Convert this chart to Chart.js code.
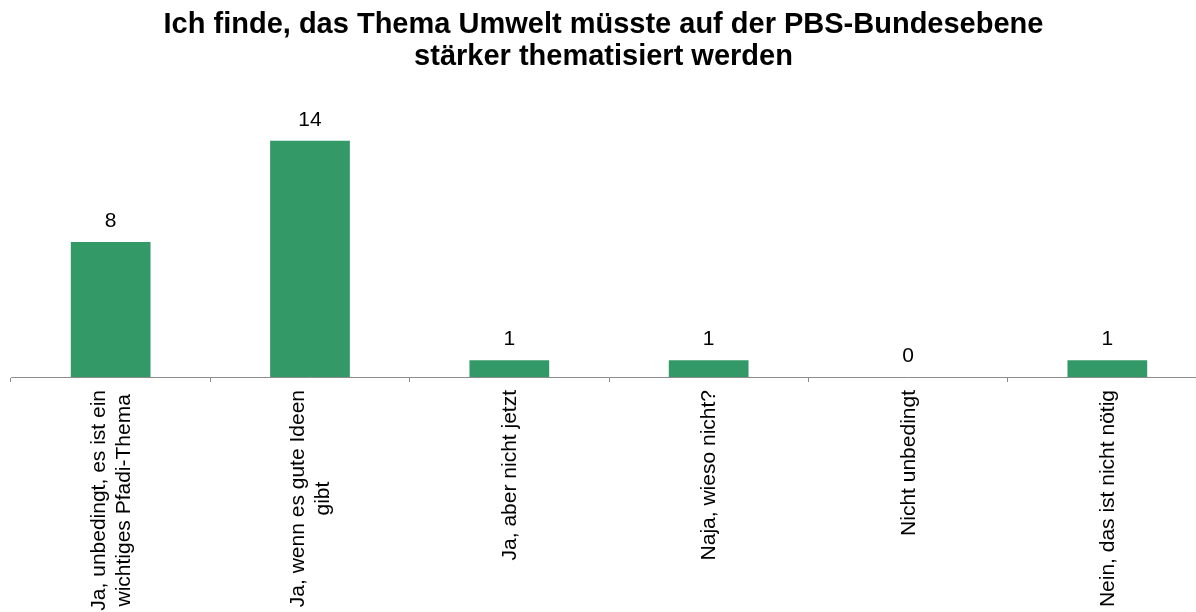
<!DOCTYPE html>
<html>
<head>
<meta charset="utf-8">
<script src="https://cdn.jsdelivr.net/npm/chart.js@4"></script>
<style>
  html, body { margin: 0; padding: 0; background: #fff; overflow: hidden; }
  canvas { display: block; }
</style>
</head>
<body>
<canvas id="umweltChart" width="1207" height="612"></canvas>
<script>
const FONT = "'Liberation Sans', Arial, sans-serif";

/* ================= DATA ================= */
const titleLines = [
    "Ich finde, das Thema Umwelt müsste auf der PBS-Bundesebene",
    "stärker thematisiert werden"
];
const categories = [
    ["Ja, unbedingt, es ist ein", "wichtiges Pfadi-Thema"],
    ["Ja, wenn es gute Ideen", "gibt"],
    ["Ja, aber nicht jetzt"],
    ["Naja, wieso nicht?"],
    ["Nicht unbedingt"],
    ["Nein, das ist nicht nötig"]
];
const counts = [8, 14, 1, 1, 0, 1];

/* ================= LABEL PLUGINS ================= */
const valueLabels = {
    id: "valueLabels",
    afterDatasetsDraw(chart) {
        const ctx = chart.ctx;
        const meta = chart.getDatasetMeta(0);
        ctx.save();
        ctx.font = "21px " + FONT;
        ctx.fillStyle = "#000";
        ctx.textAlign = "center";
        ctx.textBaseline = "alphabetic";
        meta.data.forEach((bar, i) => {
            ctx.fillText(String(counts[i]), bar.x, bar.y - 15);
        });
        ctx.restore();
    }
};

// x labels read bottom-to-top, lines centred against each other
const rotatedTicks = {
    id: "rotatedTicks",
    afterDraw(chart) {
        const ctx = chart.ctx;
        const xs = chart.scales.x;
        const top = chart.chartArea.bottom + 13;
        const lh = 25;
        ctx.save();
        ctx.font = "21px " + FONT;
        ctx.fillStyle = "#000";
        ctx.textAlign = "center";
        ctx.textBaseline = "middle";
        categories.forEach((lines, i) => {
            const cx = xs.getPixelForValue(i);
            const maxW = Math.max(...lines.map(l => ctx.measureText(l).width));
            ctx.save();
            ctx.translate(cx, top);
            ctx.rotate(-Math.PI / 2);
            lines.forEach((line, j) => {
                const off = (j - (lines.length - 1) / 2) * lh;
                ctx.fillText(line, -maxW / 2, off + 1);
            });
            ctx.restore();
        });
        ctx.restore();
    }
};

/* ================= CHART ================= */
new Chart(document.getElementById("umweltChart").getContext("2d"), {
    type: "bar",
    data: {
        labels: categories.map(c => c.join(" ")),
        datasets: [{
            data: counts,
            backgroundColor: "#339966",
            borderWidth: 0,
            barPercentage: 0.4,
            categoryPercentage: 1.0
        }]
    },
    options: {
        responsive: false,
        animation: false,
        layout: { padding: 0 },
        plugins: {
            legend: { display: false },
            tooltip: { enabled: false },
            title: {
                display: true,
                text: titleLines,
                color: "#000",
                font: { family: FONT, size: 29, weight: "bold", lineHeight: "32px" },
                padding: { top: 9, bottom: 34 }
            }
        },
        scales: {
            x: {
                grid: {
                    offset: true,
                    drawOnChartArea: false,
                    drawTicks: true,
                    tickLength: 5,
                    color: "#8c8c8c"
                },
                border: { color: "#8c8c8c", width: 1 },
                ticks: { display: false },
                afterFit: (scale) => { scale.height = 235; }
            },
            y: {
                min: 0,
                max: 16,
                grid: { display: false },
                border: { display: false },
                ticks: { display: false },
                afterFit: (scale) => { scale.width = 11; }
            }
        }
    },
    plugins: [valueLabels, rotatedTicks]
});
</script>
</body>
</html>
